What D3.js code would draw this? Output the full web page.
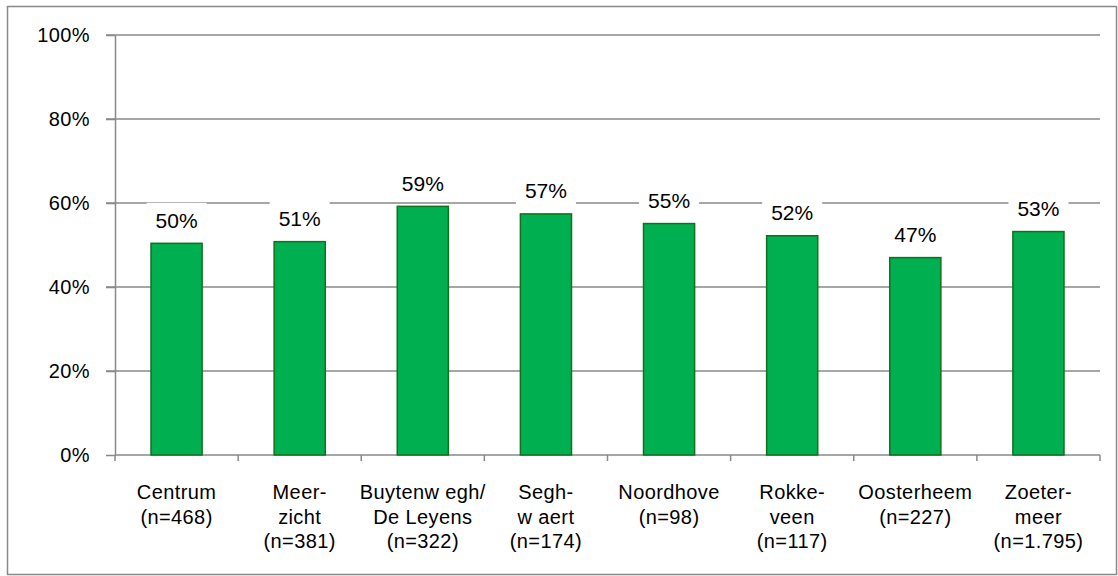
<!DOCTYPE html>
<html>
<head>
<meta charset="utf-8">
<script src="https://cdn.jsdelivr.net/npm/d3@7"></script>
<style>
  body { margin: 0; background: #fff; }
  svg { font-family: "Liberation Sans", Arial, sans-serif; }
</style>
</head>
<body>
<div id="chart"></div>
<script>
// categorie (righe già spezzate come nell'originale)
const categorie = [
  ['Centrum', '(n=468)'],
  ['Meer-', 'zicht', '(n=381)'],
  ['Buytenw egh/', 'De Leyens', '(n=322)'],
  ['Segh-', 'w aert', '(n=174)'],
  ['Noordhove', '(n=98)'],
  ['Rokke-', 'veen', '(n=117)'],
  ['Oosterheem', '(n=227)'],
  ['Zoeter-', 'meer', '(n=1.795)']
];
const valori = [50.4, 50.8, 59.2, 57.4, 55.1, 52.2, 47.0, 53.2];
const etichette = ['50%', '51%', '59%', '57%', '55%', '52%', '47%', '53%'];
const yTicks = [0, 20, 40, 60, 80, 100];

const width = 1118, height = 576;
const margin = { top: 35, right: 18, bottom: 121, left: 115 };
const w = width - margin.left - margin.right;
const h = height - margin.top - margin.bottom;

const svg = d3.select('#chart').append('svg')
  .attr('width', width)
  .attr('height', height);

// cornice del grafico, quasi sul bordo dell'immagine
svg.append('rect')
  .attr('x', 7.5).attr('y', 6.5)
  .attr('width', 1109).attr('height', 568)
  .attr('fill', 'none')
  .attr('stroke', '#898989')
  .attr('stroke-width', 1.5);

const g = svg.append('g')
  .attr('transform', `translate(${margin.left},${margin.top})`);

const x = d3.scaleBand()
  .domain(d3.range(categorie.length))
  .range([0, w])
  .paddingInner(0.585)
  .paddingOuter(0.2925);

const y = d3.scaleLinear().domain([0, 100]).range([h, 0]);

// griglia orizzontale con tacche a sinistra
g.append('g')
  .selectAll('line')
  .data(yTicks.filter(t => t > 0))
  .join('line')
  .attr('x1', -9).attr('x2', w)
  .attr('y1', d => y(d)).attr('y2', d => y(d))
  .attr('stroke', '#898989')
  .attr('stroke-width', 1.5);

// asse y
const yAxis = g.append('g')
  .call(d3.axisLeft(y).tickValues(yTicks).tickSize(9).tickSizeOuter(0).tickFormat(d => d + '%'));
yAxis.select('.domain').attr('stroke', '#898989').attr('stroke-width', 1.5);
yAxis.selectAll('.tick line').attr('stroke', '#898989').attr('stroke-width', 1.5);
yAxis.selectAll('.tick text')
  .attr('x', -25)
  .attr('fill', '#000')
  .style('font-size', '20px')
  .style('letter-spacing', '0.4px')
  .style('font-family', '"Liberation Sans", Arial, sans-serif');

// asse x: linea di base e tacche tra le categorie
const step = x.step();
g.append('line')
  .attr('x1', 0).attr('x2', w)
  .attr('y1', h).attr('y2', h)
  .attr('stroke', '#898989').attr('stroke-width', 1.5);
g.append('g')
  .selectAll('line')
  .data(d3.range(categorie.length + 1))
  .join('line')
  .attr('x1', d => d * step).attr('x2', d => d * step)
  .attr('y1', h).attr('y2', h + 6)
  .attr('stroke', '#898989').attr('stroke-width', 1.5);

// barre
g.append('g')
  .selectAll('rect')
  .data(valori)
  .join('rect')
  .attr('x', (d, i) => x(i))
  .attr('y', d => y(d))
  .attr('width', x.bandwidth())
  .attr('height', d => h - y(d))
  .attr('fill', '#00B050')
  .attr('stroke', '#11701F')
  .attr('stroke-width', 1.5);

// etichette dei valori con sfondo bianco che interrompe la griglia
const lab = g.append('g')
  .selectAll('g')
  .data(valori)
  .join('g')
  .attr('transform', (d, i) => `translate(${x(i) + x.bandwidth() / 2},${y(d) - 15.5})`);

lab.append('rect')
  .attr('x', -30).attr('y', -25)
  .attr('width', 60).attr('height', 33)
  .attr('fill', '#fff');

lab.append('text')
  .attr('text-anchor', 'middle')
  .style('font-size', '21px')
  .attr('fill', '#000')
  .text((d, i) => etichette[i]);

// etichette categorie su più righe
const cat = g.append('g')
  .selectAll('text')
  .data(categorie)
  .join('text')
  .attr('text-anchor', 'middle')
  .attr('x', (d, i) => x(i) + x.bandwidth() / 2)
  .attr('y', h + 44)
  .style('font-size', '20px')
  .style('letter-spacing', '0.4px')
  .attr('fill', '#000');

cat.selectAll('tspan')
  .data(d => d)
  .join('tspan')
  .attr('x', function() { return d3.select(this.parentNode).attr('x'); })
  .attr('dy', (d, i) => i === 0 ? 0 : 24.5)
  .text(d => d);
</script>
</body>
</html>
